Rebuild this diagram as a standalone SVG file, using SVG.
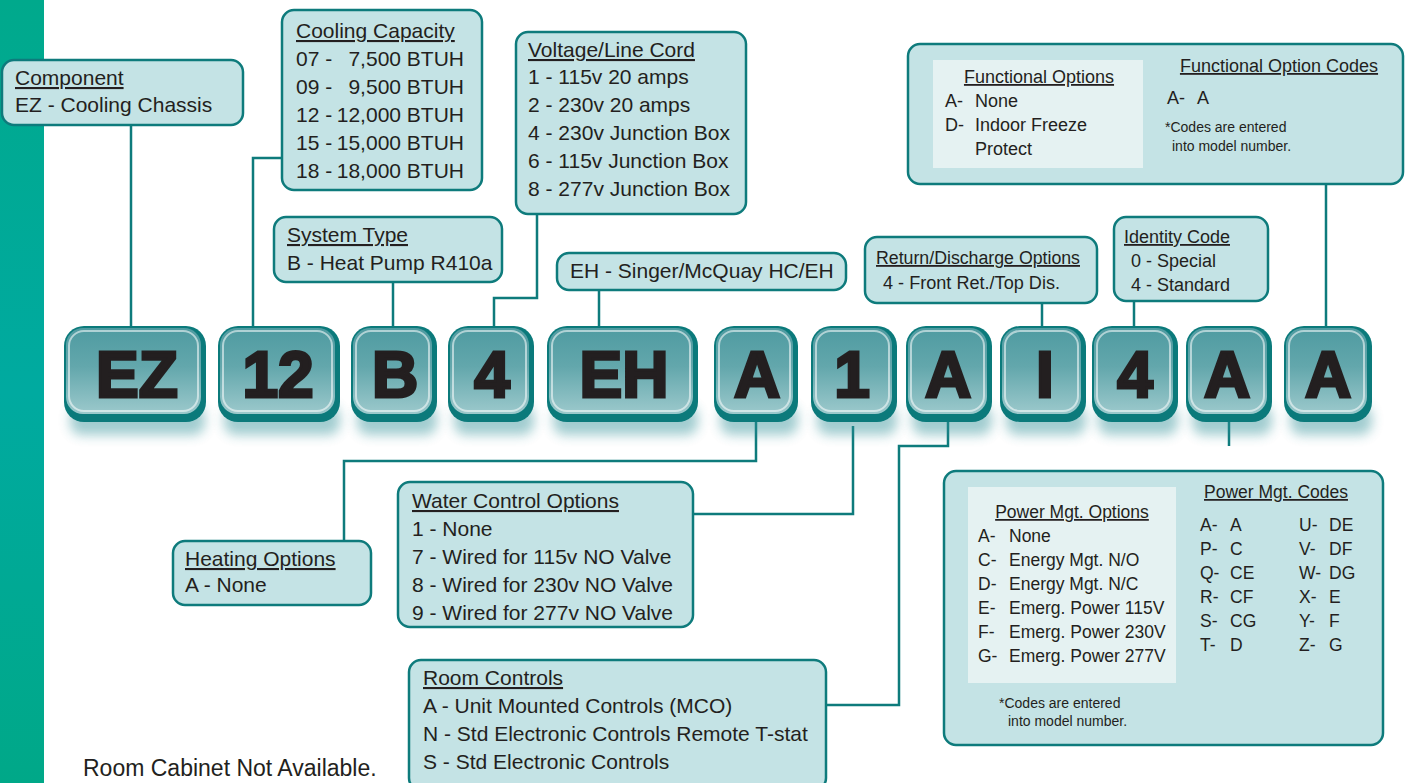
<svg xmlns="http://www.w3.org/2000/svg" width="1406" height="783" viewBox="0 0 1406 783">
<defs>
<linearGradient id="strip" x1="0" y1="0" x2="0" y2="1">
<stop offset="0" stop-color="#00a98c"/><stop offset="0.5" stop-color="#00aaa0"/><stop offset="1" stop-color="#00a888"/>
</linearGradient>
<linearGradient id="chipGrad" x1="0" y1="0" x2="0" y2="1">
<stop offset="0" stop-color="#4f9ba1"/><stop offset="0.45" stop-color="#63a7ac"/><stop offset="1" stop-color="#9cc9cc"/>
</linearGradient>
<filter id="blur" x="-20%" y="-50%" width="140%" height="200%"><feGaussianBlur stdDeviation="6"/></filter>
<style>
.box{fill:#c4e3e5;stroke:#0e7b7c;stroke-width:2.5}
.inner{fill:#e5f2f2}
.t{font-family:"Liberation Sans",Arial,sans-serif;fill:#231f20;font-size:21px}
.s{font-size:18px}
.p{font-size:17.5px}
.xs{font-size:14px}
.u{text-decoration:underline}
.conn{fill:none;stroke:#0e7b7c;stroke-width:2.5}
.shadow{fill:#2f8f96;opacity:0.45;filter:url(#blur)}
.rim{fill:#0b7a7b}
.face{fill:url(#chipGrad)}
.hi{fill:none;stroke:#ffffff;stroke-opacity:0.55;stroke-width:2}
.code{font-family:"Liberation Sans",Arial,sans-serif;font-weight:bold;font-size:64px;fill:#231f20;stroke:#231f20;stroke-width:3;text-anchor:middle}
</style>
</defs>
<rect x="0" y="0" width="1406" height="783" fill="#ffffff"/>
<rect x="0" y="0" width="44" height="783" fill="url(#strip)"/>

<g id="connectors">
<path class="conn" d="M131,125 V326"/>
<path class="conn" d="M282,158 H253 V326"/>
<path class="conn" d="M393,282 V326"/>
<path class="conn" d="M537,214 V298 H494 V326"/>
<path class="conn" d="M599,290 V326"/>
<path class="conn" d="M1042,303 V326"/>
<path class="conn" d="M1134,301 V326"/>
<path class="conn" d="M1326,184 V326"/>
<path class="conn" d="M344,541 V461 H756 V420"/>
<path class="conn" d="M693,514 H853 V426"/>
<path class="conn" d="M826,705 H899 V446 H948 V420"/>
<path class="conn" d="M1229,420 V446"/>
</g>

<g id="chips">
<g id="chip-EZ"><rect class="shadow" x="70" y="405" width="135" height="30" rx="12"/><rect class="rim" x="64" y="326" width="142" height="96" rx="20"/><rect class="face" x="66" y="328" width="135" height="86" rx="17"/><rect class="hi" x="69" y="331" width="129" height="80" rx="15"/><text class="code" x="137" y="397">EZ</text></g>
<g id="chip-12"><rect class="shadow" x="224" y="405" width="116" height="30" rx="12"/><rect class="rim" x="218" y="326" width="122" height="96" rx="20"/><rect class="face" x="220" y="328" width="115" height="86" rx="17"/><rect class="hi" x="223" y="331" width="109" height="80" rx="15"/><text class="code" x="278" y="397">12</text></g>
<g id="chip-B"><rect class="shadow" x="357" y="405" width="80" height="30" rx="12"/><rect class="rim" x="351" y="326" width="86" height="96" rx="20"/><rect class="face" x="353" y="328" width="79" height="86" rx="17"/><rect class="hi" x="356" y="331" width="73" height="80" rx="15"/><text class="code" x="395" y="397">B</text></g>
<g id="chip-4a"><rect class="shadow" x="454" y="405" width="80" height="30" rx="12"/><rect class="rim" x="448" y="326" width="86" height="96" rx="20"/><rect class="face" x="450" y="328" width="79" height="86" rx="17"/><rect class="hi" x="453" y="331" width="73" height="80" rx="15"/><text class="code" x="492" y="397">4</text></g>
<g id="chip-EH"><rect class="shadow" x="553" y="405" width="145" height="30" rx="12"/><rect class="rim" x="547" y="326" width="151" height="96" rx="20"/><rect class="face" x="549" y="328" width="144" height="86" rx="17"/><rect class="hi" x="552" y="331" width="138" height="80" rx="15"/><text class="code" x="624" y="397">EH</text></g>
<g id="chip-A1"><rect class="shadow" x="720" y="405" width="78" height="30" rx="12"/><rect class="rim" x="714" y="326" width="84" height="96" rx="20"/><rect class="face" x="716" y="328" width="77" height="86" rx="17"/><rect class="hi" x="719" y="331" width="71" height="80" rx="15"/><text class="code" x="757" y="397">A</text></g>
<g id="chip-1"><rect class="shadow" x="817" y="405" width="80" height="30" rx="12"/><rect class="rim" x="811" y="326" width="86" height="96" rx="20"/><rect class="face" x="813" y="328" width="79" height="86" rx="17"/><rect class="hi" x="816" y="331" width="73" height="80" rx="15"/><text class="code" x="852" y="397">1</text></g>
<g id="chip-A2"><rect class="shadow" x="912" y="405" width="80" height="30" rx="12"/><rect class="rim" x="906" y="326" width="86" height="96" rx="20"/><rect class="face" x="908" y="328" width="79" height="86" rx="17"/><rect class="hi" x="911" y="331" width="73" height="80" rx="15"/><text class="code" x="948" y="397">A</text></g>
<g id="chip-I"><rect class="shadow" x="1006" y="405" width="80" height="30" rx="12"/><rect class="rim" x="1000" y="326" width="86" height="96" rx="20"/><rect class="face" x="1002" y="328" width="79" height="86" rx="17"/><rect class="hi" x="1005" y="331" width="73" height="80" rx="15"/><text class="code" x="1045" y="397">I</text></g>
<g id="chip-4b"><rect class="shadow" x="1098" y="405" width="80" height="30" rx="12"/><rect class="rim" x="1092" y="326" width="86" height="96" rx="20"/><rect class="face" x="1094" y="328" width="79" height="86" rx="17"/><rect class="hi" x="1097" y="331" width="73" height="80" rx="15"/><text class="code" x="1135" y="397">4</text></g>
<g id="chip-A3"><rect class="shadow" x="1192" y="405" width="80" height="30" rx="12"/><rect class="rim" x="1186" y="326" width="86" height="96" rx="20"/><rect class="face" x="1188" y="328" width="79" height="86" rx="17"/><rect class="hi" x="1191" y="331" width="73" height="80" rx="15"/><text class="code" x="1227" y="397">A</text></g>
<g id="chip-A4"><rect class="shadow" x="1290" y="405" width="82" height="30" rx="12"/><rect class="rim" x="1284" y="326" width="88" height="96" rx="20"/><rect class="face" x="1286" y="328" width="81" height="86" rx="17"/><rect class="hi" x="1289" y="331" width="75" height="80" rx="15"/><text class="code" x="1328" y="397">A</text></g>
</g>

<g id="component">
<rect class="box" x="2" y="60" width="241" height="65" rx="12"/>
<text class="t u" x="15" y="85">Component</text>
<text class="t" x="15" y="112">EZ - Cooling Chassis</text>
</g>

<g id="cooling-capacity">
<rect class="box" x="282" y="10" width="200" height="180" rx="12"/>
<text class="t u" x="296" y="38">Cooling Capacity</text>
<text class="t" x="296" y="66">07 -</text><text class="t" x="464" y="66" text-anchor="end">7,500 BTUH</text>
<text class="t" x="296" y="94">09 -</text><text class="t" x="464" y="94" text-anchor="end">9,500 BTUH</text>
<text class="t" x="296" y="122">12 -</text><text class="t" x="464" y="122" text-anchor="end">12,000 BTUH</text>
<text class="t" x="296" y="150">15 -</text><text class="t" x="464" y="150" text-anchor="end">15,000 BTUH</text>
<text class="t" x="296" y="178">18 -</text><text class="t" x="464" y="178" text-anchor="end">18,000 BTUH</text>
</g>

<g id="voltage">
<rect class="box" x="516" y="32" width="230" height="182" rx="12"/>
<text class="t u" x="528" y="57">Voltage/Line Cord</text>
<text class="t" x="528" y="84">1 - 115v 20 amps</text>
<text class="t" x="528" y="112">2 - 230v 20 amps</text>
<text class="t" x="528" y="140">4 - 230v Junction Box</text>
<text class="t" x="528" y="168">6 - 115v Junction Box</text>
<text class="t" x="528" y="196">8 - 277v Junction Box</text>
</g>

<g id="system-type">
<rect class="box" x="274" y="217" width="228" height="65" rx="12"/>
<text class="t u" x="287" y="242">System Type</text>
<text class="t" x="287" y="270">B - Heat Pump R410a</text>
</g>

<g id="eh">
<rect class="box" x="557" y="253" width="289" height="37" rx="12"/>
<text class="t" x="570" y="278">EH - Singer/McQuay HC/EH</text>
</g>

<g id="return-discharge">
<rect class="box" x="865" y="237" width="232" height="66" rx="12"/>
<text class="t s u" x="876" y="264" textLength="204" lengthAdjust="spacingAndGlyphs">Return/Discharge Options</text>
<text class="t s" x="883" y="289" textLength="177" lengthAdjust="spacingAndGlyphs">4 - Front Ret./Top Dis.</text>
</g>

<g id="identity">
<rect class="box" x="1114" y="217" width="154" height="84" rx="12"/>
<text class="t s u" x="1124" y="243" textLength="106" lengthAdjust="spacingAndGlyphs">Identity Code</text>
<text class="t s" x="1131" y="267">0 - Special</text>
<text class="t s" x="1131" y="291">4 - Standard</text>
</g>

<g id="functional">
<rect class="box" x="908" y="44" width="495" height="140" rx="12"/>
<rect class="inner" x="933" y="60" width="210" height="108"/>
<text class="t s u" x="1039" y="83" text-anchor="middle">Functional Options</text>
<text class="t s" x="945" y="107">A-</text><text class="t s" x="975" y="107">None</text>
<text class="t s" x="945" y="131">D-</text><text class="t s" x="975" y="131">Indoor Freeze</text>
<text class="t s" x="975" y="155">Protect</text>
<text class="t s u" x="1279" y="72" text-anchor="middle">Functional Option Codes</text>
<text class="t s" x="1167" y="104">A-</text><text class="t s" x="1197" y="104">A</text>
<text class="t xs" x="1165" y="132">*Codes are entered</text>
<text class="t xs" x="1172" y="151">into model number.</text>
</g>

<g id="power">
<rect class="box" x="944" y="471" width="439" height="274" rx="12"/>
<rect class="inner" x="968" y="487" width="208" height="196"/>
<text class="t p u" x="1072" y="518" text-anchor="middle">Power Mgt. Options</text>
<text class="t p" x="978" y="542">A-</text><text class="t p" x="1009" y="542">None</text>
<text class="t p" x="978" y="566">C-</text><text class="t p" x="1009" y="566">Energy Mgt. N/O</text>
<text class="t p" x="978" y="590">D-</text><text class="t p" x="1009" y="590">Energy Mgt. N/C</text>
<text class="t p" x="978" y="614">E-</text><text class="t p" x="1009" y="614">Emerg. Power 115V</text>
<text class="t p" x="978" y="638">F-</text><text class="t p" x="1009" y="638">Emerg. Power 230V</text>
<text class="t p" x="978" y="662">G-</text><text class="t p" x="1009" y="662">Emerg. Power 277V</text>
<text class="t p u" x="1276" y="498" text-anchor="middle">Power Mgt. Codes</text>
<text class="t p" x="1200" y="531">A-</text><text class="t p" x="1230" y="531">A</text>
<text class="t p" x="1200" y="555">P-</text><text class="t p" x="1230" y="555">C</text>
<text class="t p" x="1200" y="579">Q-</text><text class="t p" x="1230" y="579">CE</text>
<text class="t p" x="1200" y="603">R-</text><text class="t p" x="1230" y="603">CF</text>
<text class="t p" x="1200" y="627">S-</text><text class="t p" x="1230" y="627">CG</text>
<text class="t p" x="1200" y="651">T-</text><text class="t p" x="1230" y="651">D</text>
<text class="t p" x="1299" y="531">U-</text><text class="t p" x="1329" y="531">DE</text>
<text class="t p" x="1299" y="555">V-</text><text class="t p" x="1329" y="555">DF</text>
<text class="t p" x="1299" y="579">W-</text><text class="t p" x="1329" y="579">DG</text>
<text class="t p" x="1299" y="603">X-</text><text class="t p" x="1329" y="603">E</text>
<text class="t p" x="1299" y="627">Y-</text><text class="t p" x="1329" y="627">F</text>
<text class="t p" x="1299" y="651">Z-</text><text class="t p" x="1329" y="651">G</text>
<text class="t xs" x="999" y="708">*Codes are entered</text>
<text class="t xs" x="1008" y="726">into model number.</text>
</g>

<g id="heating">
<rect class="box" x="173" y="541" width="198" height="64" rx="12"/>
<text class="t u" x="185" y="566">Heating Options</text>
<text class="t" x="185" y="592">A - None</text>
</g>

<g id="water">
<rect class="box" x="398" y="482" width="295" height="145" rx="12"/>
<text class="t u" x="412" y="508">Water Control Options</text>
<text class="t" x="412" y="536">1 - None</text>
<text class="t" x="412" y="564">7 - Wired for 115v NO Valve</text>
<text class="t" x="412" y="592">8 - Wired for 230v NO Valve</text>
<text class="t" x="412" y="620">9 - Wired for 277v NO Valve</text>
</g>

<g id="room-controls">
<rect class="box" x="409" y="660" width="417" height="130" rx="12"/>
<text class="t u" x="423" y="685">Room Controls</text>
<text class="t" x="423" y="713">A - Unit Mounted Controls (MCO)</text>
<text class="t" x="423" y="741">N - Std Electronic Controls Remote T-stat</text>
<text class="t" x="423" y="769">S - Std Electronic Controls</text>
</g>

<text class="t" x="83" y="776" style="font-size:23px">Room Cabinet Not Available.</text>
</svg>
